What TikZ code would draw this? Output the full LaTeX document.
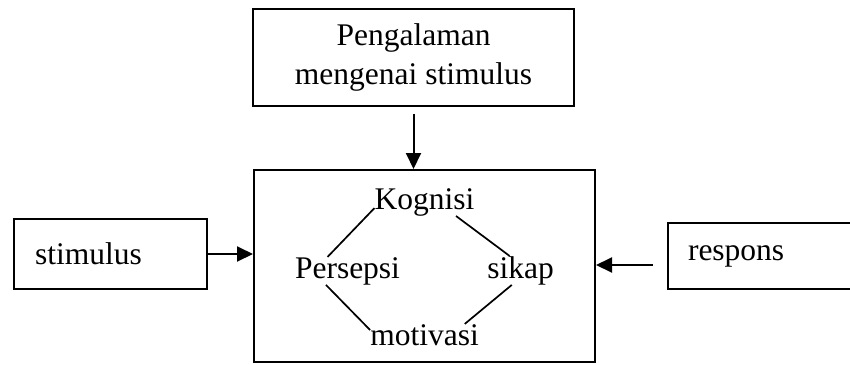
\documentclass[tikz,border=0pt]{standalone}
\usepackage{fontspec}
\setmainfont{Liberation Serif}
\usetikzlibrary{arrows.meta}
\tikzset{
  kotak/.style={draw, line width=2pt, inner sep=0pt, font=\fontsize{31.5}{39}\selectfont},
  kata/.style={inner sep=0pt, anchor=base, font=\fontsize{31.5}{39}\selectfont},
  panah/.style={line width=2pt, -{Triangle[length=16pt,width=15pt]}},
  garis/.style={line width=1.7pt}
}
\begin{document}
\begin{tikzpicture}[x=1pt,y=-1pt]
\useasboundingbox (0,0) rectangle (850,364);
% kotak-kotak
\node[kotak, minimum width=321pt, minimum height=97pt, align=center] (peng) at (413.5,57.5) {Pengalaman\\mengenai stimulus};
\node[kotak, minimum width=341pt, minimum height=192pt] (main) at (424.5,266) {};
\node[kotak, minimum width=193pt, minimum height=70pt, inner xsep=21pt, text width=151pt, align=left] (stim) at (110.5,254) {stimulus};
\node[kotak, minimum width=212pt, minimum height=66pt, inner xsep=20pt, text width=172pt, align=left] (resp) at (774,256) {respons};
% isi kotak tengah
\node[kata] (kog) at (424.5,209) {Kognisi};
\node[kata] (pers) at (347.5,278) {Persepsi};
\node[kata] (sik) at (520.5,278) {sikap};
\node[kata] (mot) at (424.5,345) {motivasi};
\draw[garis] (kog.187) -- (pers.145);
\draw[garis] (kog.336) -- (sik.127);
\draw[garis] (pers.213) -- (mot.175);
\draw[garis] (sik.239) -- (mot.15);
% panah
\coordinate (rin) at (653,265);
\draw[panah] ([yshift=-7pt]peng.south) -- (peng.south |- main.north);
\draw[panah] (stim.east) -- (stim.east -| main.west);
\draw[panah] (rin) -- (rin -| main.east);
\end{tikzpicture}
\end{document}
